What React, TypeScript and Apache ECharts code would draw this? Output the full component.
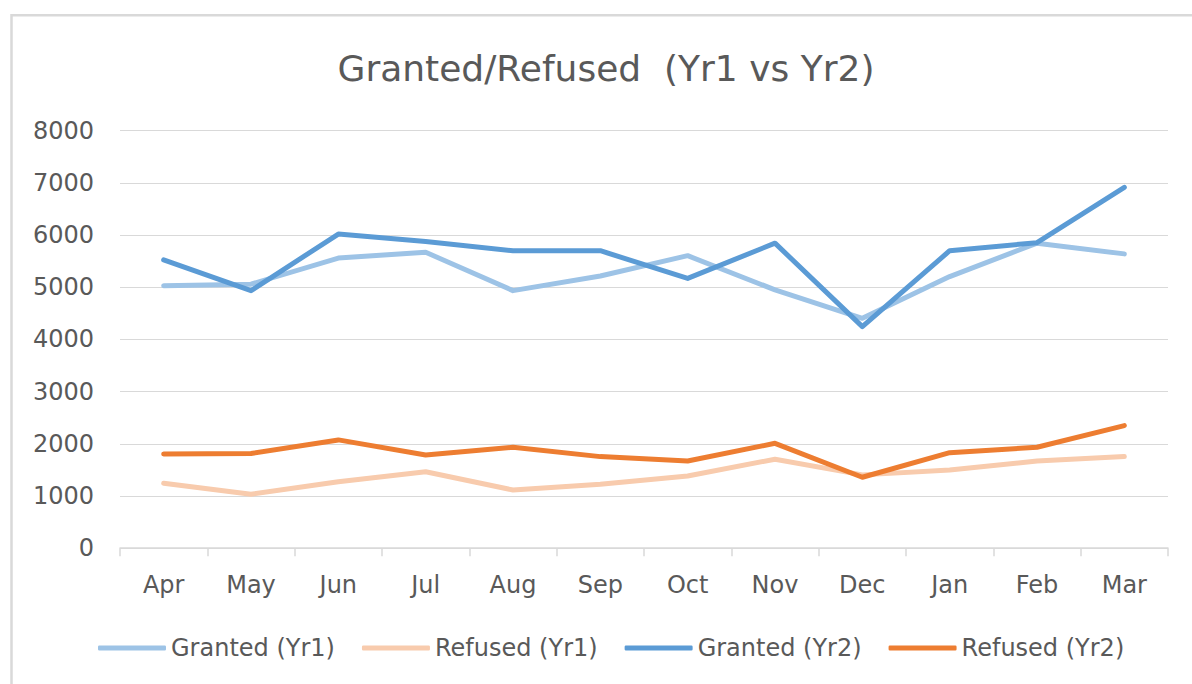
import React, { useEffect, useRef } from "react";
import * as echarts from "echarts";

const months = ["Apr", "May", "Jun", "Jul", "Aug", "Sep", "Oct", "Nov", "Dec", "Jan", "Feb", "Mar"];
const grantedYr1 = [5030, 5060, 5560, 5670, 4935, 5215, 5605, 4950, 4405, 5205, 5845, 5640];
const refusedYr1 = [1245, 1035, 1275, 1465, 1115, 1225, 1385, 1705, 1405, 1500, 1670, 1755];
const grantedYr2 = [5525, 4935, 6020, 5875, 5700, 5700, 5170, 5845, 4245, 5700, 5855, 6915];
const refusedYr2 = [1805, 1815, 2075, 1785, 1935, 1755, 1670, 2010, 1360, 1830, 1935, 2350];
const seriesNames = ["Granted (Yr1)", "Refused (Yr1)", "Granted (Yr2)", "Refused (Yr2)"];
const seriesColors = ["#9dc3e6", "#f8cbad", "#5b9bd5", "#ed7d31"];
const titleText = "Granted/Refused  (Yr1 vs Yr2)";

const FONT = "'DejaVu Sans', sans-serif";
const TEXT_COLOR = "#595959";

export default function App() {
  const ref = useRef<HTMLDivElement>(null);
  useEffect(() => {
    if (!ref.current) return;
    const chart = echarts.init(ref.current, undefined, { renderer: "svg" });
    const data = [grantedYr1, refusedYr1, grantedYr2, refusedYr2];
    chart.setOption({
      animation: false,
      backgroundColor: "#ffffff",
      graphic: [
        {
          type: "rect",
          shape: { x: 11.5, y: 15.3, width: 1300, height: 800 },
          style: { fill: "none", stroke: "#d9d9d9", lineWidth: 2.5 },
          silent: true,
        },
        {
          type: "text",
          style: {
            text: titleText,
            x: 606,
            y: 68,
            textAlign: "center",
            textVerticalAlign: "middle",
            fontFamily: FONT,
            fontSize: 36,
            fill: TEXT_COLOR,
          },
        },
      ],
      grid: { left: 120, right: 24, top: 130.7, bottom: 135.8, containLabel: false },
      legend: {
        left: 98,
        top: 636,
        padding: 0,
        icon: "roundRect",
        itemWidth: 68,
        itemHeight: 5,
        itemGap: 27,
        textStyle: { fontFamily: FONT, fontSize: 24, color: TEXT_COLOR },
        data: seriesNames,
      },
      xAxis: {
        type: "category",
        data: months,
        boundaryGap: true,
        axisLine: { lineStyle: { color: "#d9d9d9", width: 1.5 } },
        axisTick: { show: true, length: 8, alignWithLabel: false, lineStyle: { color: "#d9d9d9", width: 1.5 } },
        axisLabel: { margin: 25, fontFamily: FONT, fontSize: 24, color: TEXT_COLOR },
      },
      yAxis: {
        type: "value",
        min: 0,
        max: 8000,
        interval: 1000,
        axisLine: { show: false },
        axisTick: { show: false },
        splitLine: { lineStyle: { color: "#d9d9d9", width: 1.2 } },
        axisLabel: {
          margin: 26,
          fontFamily: FONT,
          fontSize: 24,
          color: TEXT_COLOR,
          formatter: (v: number) => String(v),
        },
      },
      series: seriesNames.map((name, i) => ({
        name,
        type: "line",
        data: data[i],
        symbol: "none",
        color: seriesColors[i],
        lineStyle: { color: seriesColors[i], width: 5, cap: "round", join: "round" },
        itemStyle: { color: seriesColors[i] },
      })),
    });
    return () => chart.dispose();
  }, []);
  return (
    <div
      ref={ref}
      style={{ position: "fixed", left: 0, top: 0, width: 1192, height: 684, background: "#fff" }}
    />
  );
}
